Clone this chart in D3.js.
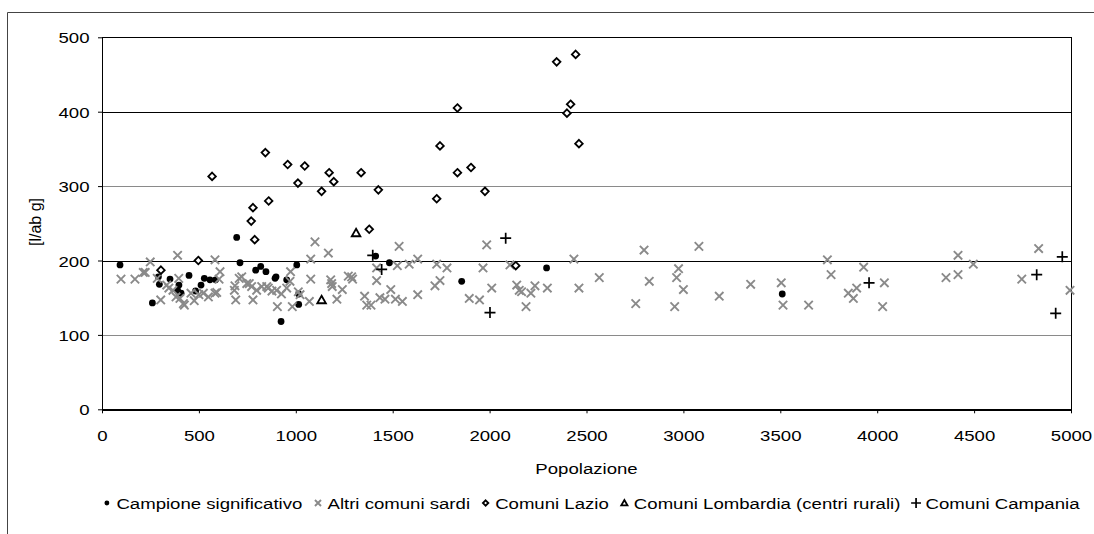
<!DOCTYPE html>
<html>
<head>
<meta charset="utf-8">
<script src="https://cdn.jsdelivr.net/npm/d3@7"></script>
<style>
  body { margin: 0; background: #fff; }
  text { font-family: "Liberation Sans", Arial, sans-serif; fill: #000; }
</style>
</head>
<body>
<svg id="chart" width="1094" height="534"></svg>
<script>
// [popolazione, consumo l/ab g]
const campione = [
  [93,194],[260,143],[291,178],[296,168],[351,175],[390,160],[397,167],[408,156],
  [449,180],[483,159],[511,167],[528,176],[557,174],[586,174],[695,231],[712,197],
  [793,187],[819,192],[846,185],[893,176],[898,178],[924,118],[953,174],[1005,194],
  [1015,141],[1015,155],[1412,206],[1483,197],[1856,172],[2294,190],[3510,155]
];

const altriSardi = [
  [98,175],[170,175],[213,184],[223,184],[249,198],[285,176],[303,147],[334,167],
  [345,163],[366,160],[382,151],[390,207],[396,176],[402,149],[420,142],[425,140],
  [459,156],[476,146],[500,154],[523,156],[549,151],[583,156],[592,157],[583,201],
  [604,175],[609,185],[683,160],[686,166],[690,147],[708,176],[721,178],[747,169],
  [760,169],[772,165],[779,147],[798,160],[824,165],[850,165],[858,163],[877,159],
  [901,160],[905,138],[926,155],[953,163],[970,172],[973,185],[982,138],[1013,158],
  [1022,154],[1070,145],[1077,175],[1077,202],[1099,225],[1168,210],[1180,174],
  [1185,169],[1188,165],[1212,148],[1240,161],[1271,179],[1288,178],[1293,175],
  [1355,152],[1366,140],[1388,140],[1417,190],[1417,173],[1434,150],[1460,148],
  [1490,161],[1514,148],[1550,145],[1524,193],[1533,219],[1585,195],[1629,202],
  [1629,154],[1718,166],[1744,173],[1727,195],[1780,190],[1895,149],[1948,147],
  [1966,190],[1985,221],[2011,163],[2105,194],[2140,167],[2153,160],[2165,158],
  [2188,138],[2213,156],[2234,166],[2298,163],[2435,202],[2461,163],[2566,177],
  [2754,142],[2797,214],[2824,172],[2955,138],[2965,177],[2975,189],[3000,161],
  [3080,219],[3185,152],[3347,168],[3505,170],[3514,140],[3646,140],[3743,201],
  [3762,181],[3851,156],[3877,149],[3894,163],[3930,191],[4028,138],[4037,170],
  [4355,177],[4417,181],[4417,207],[4496,195],[4746,175],[4833,216],[4995,160]
];

const lazio = [
  [304,187],[497,200],[568,313],[770,253],[779,271],[788,228],[843,345],[860,280],
  [958,329],[1011,304],[1046,327],[1133,293],[1172,318],[1196,306],[1337,318],
  [1379,242],[1426,295],[1727,283],[1744,354],[1834,405],[1834,318],[1904,325],
  [1976,293],[2135,193],[2346,467],[2399,398],[2418,410],[2444,477],[2461,357]
];

const lombardia = [[1133,147],[1311,237]];

const campania = [
  [1397,207],[1443,188],[2002,130],[2083,230],[3958,170],[4823,181],[4921,129],[4955,205]
];

const xTicks = [0,500,1000,1500,2000,2500,3000,3500,4000,4500,5000];
const yTicks = [0,100,200,300,400,500];
const seriesNames = [
  "Campione significativo",
  "Altri comuni sardi",
  "Comuni Lazio",
  "Comuni Lombardia (centri rurali)",
  "Comuni Campania"
];
const xTitle = "Popolazione";
const yTitle = "[l/ab g]";

const svg = d3.select("#chart");
const FS = 15.5;      // font size
const SX = 1.2;       // horizontal text stretch

const x = d3.scaleLinear().domain([0, 5000]).range([102, 1071]);
const y = d3.scaleLinear().domain([0, 500]).range([409.3, 37.3]);

// outer frame (left and top edges)
svg.append("path")
  .attr("d", "M7.5,534 V12.5 H1094")
  .attr("fill", "none").attr("stroke", "#444").attr("stroke-width", 1);

// horizontal gridlines
const grid = svg.append("g").attr("shape-rendering", "crispEdges");
yTicks.filter(v => v > 0 && v < 500).forEach(v => {
  grid.append("line")
    .attr("x1", x(0)).attr("x2", x(5000))
    .attr("y1", Math.round(y(v)) + 0.5).attr("y2", Math.round(y(v)) + 0.5)
    .attr("stroke", (v / 100) % 2 === 0 ? "#000" : "#8a8a8a")
    .attr("stroke-width", 1);
});

// plot border: top and right
svg.append("path")
  .attr("d", `M${x(0)},${Math.round(y(500)) + 0.5} H${Math.round(x(5000)) + 0.5} V${y(0) + 4}`)
  .attr("fill", "none").attr("stroke", "#000").attr("stroke-width", 1)
  .attr("shape-rendering", "crispEdges");

// axes
const xAxis = svg.append("g")
  .attr("transform", `translate(0,${y(0)})`)
  .call(d3.axisBottom(x).tickValues(xTicks).tickSizeInner(4).tickSizeOuter(0).tickFormat(d3.format("d")));
xAxis.select(".domain").attr("stroke", "#000").attr("stroke-width", 2);
xAxis.selectAll(".tick line").attr("stroke", "#000").attr("stroke-width", 1);
xAxis.selectAll(".tick text")
  .attr("y", null).attr("dy", null)
  .attr("transform", `translate(0,31.5) scale(${SX},1)`)
  .attr("font-size", FS).attr("font-family", null)
  .attr("text-anchor", "middle");

const yAxis = svg.append("g")
  .attr("transform", `translate(${x(0)},0)`)
  .call(d3.axisLeft(y).tickValues(yTicks).tickSizeInner(4).tickSizeOuter(0).tickFormat(d3.format("d")));
yAxis.select(".domain").attr("stroke", "#000").attr("stroke-width", 1.5);
yAxis.selectAll(".tick line").attr("stroke", "#000").attr("stroke-width", 1);
yAxis.selectAll(".tick text")
  .attr("x", null).attr("dy", null)
  .attr("transform", `translate(-12.5,5.5) scale(${SX},1)`)
  .attr("font-size", FS).attr("font-family", null)
  .attr("text-anchor", "end");
svg.selectAll(".domain").attr("shape-rendering", "crispEdges");

// axis titles
svg.append("text")
  .attr("transform", `translate(${(x(0) + x(5000)) / 2},474) scale(${SX},1)`)
  .attr("text-anchor", "middle").attr("font-size", FS)
  .text(xTitle);
svg.append("text")
  .attr("transform", `translate(41,222) rotate(-90)`)
  .attr("text-anchor", "middle").attr("font-size", 16)
  .text(yTitle);

// marker painters
const markers = [
  (g, s) => g.append("circle").attr("r", 3.4 * s).attr("fill", "#000"),
  (g, s) => g.append("path")
      .attr("d", `M${-4.2*s},${-4.2*s}L${4.2*s},${4.2*s}M${-4.2*s},${4.2*s}L${4.2*s},${-4.2*s}`)
      .attr("stroke", "#8a8a8a").attr("stroke-width", 1.9).attr("fill", "none"),
  (g, s) => g.append("path")
      .attr("d", `M0,${-3.8*s}L${3.8*s},0L0,${3.8*s}L${-3.8*s},0Z`)
      .attr("stroke", "#000").attr("stroke-width", 1.8).attr("fill", "#fff"),
  (g, s) => g.append("path")
      .attr("d", `M0,${-4.2*s}L${4.3*s},${3.3*s}L${-4.3*s},${3.3*s}Z`)
      .attr("stroke", "#000").attr("stroke-width", 1.8).attr("fill", "#fff"),
  (g, s) => g.append("path")
      .attr("d", `M${-5.5*s},0H${5.5*s}M0,${-5.5*s}V${5.5*s}`)
      .attr("stroke", "#000").attr("stroke-width", 1.7).attr("fill", "none")
];

const series = [campione, altriSardi, lazio, lombardia, campania];
series.forEach((data, i) => {
  const layer = svg.append("g");
  data.forEach(d => {
    const g = layer.append("g").attr("transform", `translate(${x(d[0])},${y(d[1])})`);
    markers[i](g, 1);
  });
});

// legend
const legend = svg.append("g");
const entries = seriesNames.map((name, i) => {
  const g = legend.append("g");
  markers[i](g.append("g"), i === 4 ? 0.9 : 0.72);
  const t = g.append("text").attr("font-size", FS).text(name);
  const w = t.node().getComputedTextLength() * SX;
  return { g, t, w };
});
const markerSlot = 9, gap = 5, spacing = 11;
const total = d3.sum(entries, e => markerSlot + gap + e.w) + spacing * (entries.length - 1);
let cx = 591 - total / 2;
entries.forEach(e => {
  e.g.select("g").attr("transform", `translate(${cx + markerSlot / 2},503)`);
  e.t.attr("transform", `translate(${cx + markerSlot + gap},509) scale(${SX},1)`);
  cx += markerSlot + gap + e.w + spacing;
});
</script>
</body>
</html>
